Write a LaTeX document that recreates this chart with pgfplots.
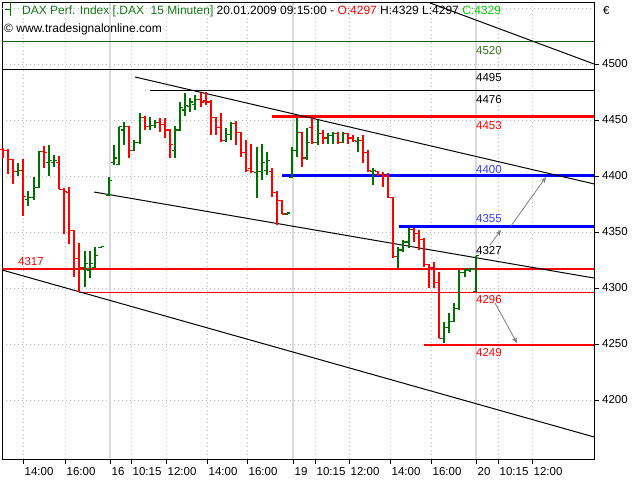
\documentclass[border=0pt]{standalone}
\usepackage{fontspec}
\setmainfont{Liberation Sans}
\usepackage{pgfplots}
\pgfplotsset{compat=1.18}
\usepackage{pgfplotstable}
\usetikzlibrary{arrows.meta}

\definecolor{bargreen}{RGB}{0,112,0}
\definecolor{barred}{RGB}{255,0,0}
\definecolor{hdrgreen}{RGB}{20,120,20}
\definecolor{cgreen}{RGB}{0,205,0}
\definecolor{lvlblue}{RGB}{0,0,255}
\definecolor{lblblue}{RGB}{60,60,255}
\definecolor{lvlgreen}{RGB}{20,90,10}
\definecolor{lblgreen}{RGB}{50,115,25}
\definecolor{gridgray}{RGB}{185,185,185}
\definecolor{daygray}{RGB}{218,218,218}
\definecolor{arrowgray}{RGB}{125,125,125}

\pgfdeclareplotmark{otick}{\pgfpathmoveto{\pgfqpoint{-2.8bp}{0pt}}\pgfpathlineto{\pgfqpoint{0.5bp}{0pt}}\pgfusepathqstroke}
\pgfdeclareplotmark{ctick}{\pgfpathmoveto{\pgfqpoint{-0.5bp}{0pt}}\pgfpathlineto{\pgfqpoint{2.8bp}{0pt}}\pgfusepathqstroke}
\pgfdeclareplotmark{nothing}{}

% x = bar position (pixel column), o h l c = prices
\pgfplotstableread{
x o h l c
18 4404 4412 4400 4405
28 4379 4387 4373 4381
34 4381 4399 4379 4390
39 4390 4422 4389 4422
49 4412 4428 4400 4414
54 4412 4419 4408 4414
85 4318 4333 4301 4322
90 4316 4333 4309 4322
95 4318 4337 4318 4329
101 4336 4337 4336 4337
109 4383 4399 4383 4396
114 4412 4428 4410 4416
119 4410 4444 4410 4444
124 4441 4448 4428 4444
134 4423 4432 4423 4430
140 4430 4456 4429 4452
150 4444 4453 4441 4445
155 4445 4450 4443 4448
175 4423 4445 4416 4441
180 4441 4466 4441 4461
185 4459 4474 4454 4463
190 4462 4470 4457 4466
195 4464 4472 4459 4468
226 4432 4443 4430 4437
231 4437 4448 4432 4447
257 4403 4426 4380 4404
262 4404 4429 4396 4412
267 4405 4421 4401 4414
287 4366 4367 4365 4367
292 4399 4426 4399 4423
297 4423 4452 4417 4439
307 4416 4443 4414 4430
318 4430 4450 4428 4438
328 4434 4438 4429 4436
333 4436 4439 4429 4438
343 4430 4439 4430 4438
358 4431 4435 4421 4432
373 4404 4407 4392 4405
398 4328 4337 4318 4334
403 4334 4343 4332 4341
409 4341 4354 4336 4352
444 4255 4270 4251 4265
449 4265 4278 4260 4270
454 4270 4287 4270 4282
459 4282 4316 4280 4314
465 4314 4318 4310 4316
470 4316 4318 4314 4317
476 4297 4329 4297 4329
}\greenbars

\pgfplotstableread{
x o h l c
3 4424 4425 4416 4423
8 4423 4424 4402 4415
13 4415 4415 4393 4404
23 4405 4415 4364 4382
44 4422 4427 4407 4421
59 4412 4418 4388 4388
64 4388 4389 4348 4386
69 4385 4390 4339 4351
74 4351 4352 4310 4326
79 4326 4340 4296 4318
129 4444 4445 4416 4423
145 4452 4454 4441 4444
160 4448 4452 4439 4446
165 4446 4452 4434 4441
170 4441 4441 4416 4428
201 4468 4474 4462 4466
206 4467 4475 4463 4466
211 4466 4468 4437 4452
216 4452 4453 4437 4443
221 4443 4456 4430 4432
236 4447 4449 4428 4439
241 4439 4439 4417 4421
246 4421 4432 4404 4405
251 4407 4429 4403 4404
272 4404 4407 4381 4385
277 4385 4387 4356 4378
282 4378 4378 4366 4366
302 4439 4439 4408 4416
312 4443 4452 4429 4430
323 4438 4441 4429 4434
338 4438 4439 4429 4430
348 4438 4438 4429 4434
353 4434 4437 4430 4432
363 4432 4437 4412 4421
368 4421 4423 4404 4405
378 4404 4404 4400 4401
383 4401 4404 4390 4400
388 4400 4403 4380 4381
393 4381 4381 4327 4328
414 4352 4354 4341 4349
419 4349 4352 4334 4343
424 4343 4345 4319 4321
429 4321 4321 4300 4318
434 4318 4323 4300 4305
439 4305 4314 4255 4255
}\redbars

\begin{document}
\begin{tikzpicture}[font=\fontsize{11.5bp}{13bp}\selectfont]
\useasboundingbox (0,0) rectangle (640bp,480bp);
\begin{axis}[
  at={(2bp,21bp)}, anchor=south west,
  scale only axis, width=592bp, height=456bp,
  xmin=2, xmax=594, ymin=4147.32, ymax=4554.46,
  axis line style={black, line width=1bp},
  tick style={black, line width=0.8bp},
  tick align=outside, major tick length=5bp,
  xtick pos=bottom, ytick pos=right, yticklabel pos=right,
  xtick={23,65,131,166,207,247,315,349,390,431,498,532},
  xticklabels={14:00,16:00,10:15,12:00,14:00,16:00,10:15,12:00,14:00,16:00,10:15,12:00},
  extra x ticks={110,293,476},
  extra x tick labels={16,19,20},
  extra x tick style={grid=major, major grid style={solid, daygray, line width=1.5bp}},
  ytick={4200,4250,4300,4350,4400,4450,4500},
  yticklabels={4200,4250,4300,4350,4400,4450,4500},
  extra y ticks={4550}, extra y tick labels={},
  extra y tick style={major tick length=0pt},
  grid=major,
  major grid style={gridgray, line width=0.8bp, dash pattern=on 1bp off 3bp},
  xticklabel style={anchor=north west, inner sep=0pt, xshift=1.5bp, yshift=-3bp, font=\fontsize{11.5bp}{13bp}\selectfont},
  yticklabel style={anchor=west, inner sep=0pt, xshift=3bp, font=\fontsize{11.5bp}{13bp}\selectfont},
  clip=true,
]
% horizontal levels
\addplot[lvlgreen, line width=1bp] coordinates {(2,4520) (594,4520)};
\addplot[black, line width=1.2bp] coordinates {(2,4495) (594,4495)};
\addplot[black, line width=1.2bp] coordinates {(150,4476) (594,4476)};
\addplot[barred, line width=3bp] coordinates {(272,4453) (594,4453)};
\addplot[lvlblue, line width=3bp] coordinates {(282,4400) (594,4400)};
\addplot[lvlblue, line width=3bp] coordinates {(399,4355) (594,4355)};
\addplot[barred, line width=1.2bp] coordinates {(2,4317) (594,4317)};
\addplot[barred, line width=1.2bp] coordinates {(79,4296) (594,4296)};
\addplot[barred, line width=1.3bp] coordinates {(424,4249) (594,4249)};
% trend lines
\addplot[black, line width=1bp] coordinates {(430,4554.5) (594,4500)};
\addplot[black, line width=1bp] coordinates {(135,4488.4) (594,4392.9)};
\addplot[black, line width=1bp] coordinates {(94,4385.7) (594,4308.9)};
\addplot[black, line width=1bp] coordinates {(2,4316.1) (594,4167)};
% OHLC bars
\addplot[only marks, mark=nothing, error bars/.cd, y dir=minus, y explicit, error mark=none,
  error bar style={draw=bargreen, line width=1.2bp}]
  table[x=x, y=h, y error expr=\thisrow{h}-\thisrow{l}] {\greenbars};
\addplot[only marks, mark=otick, mark options={draw=bargreen, line width=1.2bp}] table[x=x, y=o] {\greenbars};
\addplot[only marks, mark=ctick, mark options={draw=bargreen, line width=1.2bp}] table[x=x, y=c] {\greenbars};
\addplot[only marks, mark=nothing, error bars/.cd, y dir=minus, y explicit, error mark=none,
  error bar style={draw=barred, line width=1.2bp}]
  table[x=x, y=h, y error expr=\thisrow{h}-\thisrow{l}] {\redbars};
\addplot[only marks, mark=otick, mark options={draw=barred, line width=1.2bp}] table[x=x, y=o] {\redbars};
\addplot[only marks, mark=ctick, mark options={draw=barred, line width=1.2bp}] table[x=x, y=c] {\redbars};
% arrows
\draw[arrowgray, line width=0.8bp, -{Stealth[length=6bp, width=5bp]}] (axis cs:490,4338.4) -- (axis cs:501,4351.8);
\draw[arrowgray, line width=0.8bp, -{Stealth[length=6bp, width=5bp]}] (axis cs:511,4355.4) -- (axis cs:546,4399.1);
\draw[arrowgray, line width=0.8bp, -{Stealth[length=6bp, width=5bp]}] (axis cs:495,4286.6) -- (axis cs:517,4250.9);
% level labels
\node[anchor=west, inner sep=0pt, text=lblgreen] at (axis cs:476,4511.6) {4520};
\node[anchor=west, inner sep=0pt, text=black] at (axis cs:476,4487.5) {4495};
\node[anchor=west, inner sep=0pt, text=black] at (axis cs:476,4467.9) {4476};
\node[anchor=west, inner sep=0pt, text=barred] at (axis cs:476,4444.6) {4453};
\node[anchor=west, inner sep=0pt, text=lblblue] at (axis cs:476,4405.4) {4400};
\node[anchor=west, inner sep=0pt, text=lblblue] at (axis cs:476,4361.6) {4355};
\node[anchor=west, inner sep=0pt, text=black] at (axis cs:476,4333) {4327};
\node[anchor=west, inner sep=0pt, text=barred] at (axis cs:476,4289.3) {4296};
\node[anchor=west, inner sep=0pt, text=barred] at (axis cs:476,4242) {4249};
\node[anchor=west, inner sep=0pt, text=barred] at (axis cs:18,4323.2) {4317};
\end{axis}
% header
\draw[bargreen, line width=1bp] (5bp,470bp) -- (10bp,470bp) (10bp,478bp) -- (10bp,464bp);
\node[anchor=west, inner sep=0pt, font=\fontsize{12bp}{14bp}\selectfont] at (22bp,469bp) {\textcolor{hdrgreen}{DAX Perf. Index [.DAX\ \ 15 Minuten]} 20.01.2009 09:15:00 - \textcolor{barred}{O:4297} H:4329 L:4297 \textcolor{cgreen}{C:4329}};
\node[anchor=west, inner sep=0pt, font=\fontsize{12bp}{14bp}\selectfont] at (4bp,451bp) {\textcopyright\ www.tradesignalonline.com};
\node[anchor=west, inner sep=0pt] at (603bp,469bp) {€};
\end{tikzpicture}
\end{document}
